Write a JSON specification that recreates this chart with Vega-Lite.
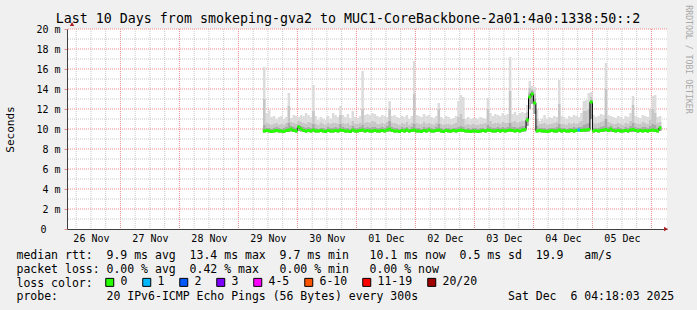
{
"$schema":"https://vega.github.io/schema/vega-lite/v6.json",
"width":600,"height":200,
"autosize":{"type":"none"},
"padding":{"left":67,"top":29,"right":30,"bottom":81},
"background":"#f0f0f0",
"title":{"text":"Last 10 Days from smokeping-gva2 to MUC1-CoreBackbone-2a01:4a0:1338:50::2","font":"DejaVu Sans Mono","fontSize":13.3,"fontWeight":"normal","color":"black","anchor":"middle","frame":"group","dx":-19,"dy":23,"offset":2},
"config":{"view":{"fill":"white","stroke":null}},
"datasets":{
"v6h":[{"g":"2025-11-26T06:00:00Z"},{"g":"2025-11-26T12:00:00Z"},{"g":"2025-11-26T18:00:00Z"},{"g":"2025-11-27T06:00:00Z"},{"g":"2025-11-27T12:00:00Z"},{"g":"2025-11-27T18:00:00Z"},{"g":"2025-11-28T06:00:00Z"},{"g":"2025-11-28T12:00:00Z"},{"g":"2025-11-28T18:00:00Z"},{"g":"2025-11-29T06:00:00Z"},{"g":"2025-11-29T12:00:00Z"},{"g":"2025-11-29T18:00:00Z"},{"g":"2025-11-30T06:00:00Z"},{"g":"2025-11-30T12:00:00Z"},{"g":"2025-11-30T18:00:00Z"},{"g":"2025-12-01T06:00:00Z"},{"g":"2025-12-01T12:00:00Z"},{"g":"2025-12-01T18:00:00Z"},{"g":"2025-12-02T06:00:00Z"},{"g":"2025-12-02T12:00:00Z"},{"g":"2025-12-02T18:00:00Z"},{"g":"2025-12-03T06:00:00Z"},{"g":"2025-12-03T12:00:00Z"},{"g":"2025-12-03T18:00:00Z"},{"g":"2025-12-04T06:00:00Z"},{"g":"2025-12-04T12:00:00Z"},{"g":"2025-12-04T18:00:00Z"},{"g":"2025-12-05T06:00:00Z"},{"g":"2025-12-05T12:00:00Z"},{"g":"2025-12-05T18:00:00Z"}],
"vday":[{"g":"2025-11-27T00:00:00Z"},{"g":"2025-11-28T00:00:00Z"},{"g":"2025-11-29T00:00:00Z"},{"g":"2025-11-30T00:00:00Z"},{"g":"2025-12-01T00:00:00Z"},{"g":"2025-12-02T00:00:00Z"},{"g":"2025-12-03T00:00:00Z"},{"g":"2025-12-04T00:00:00Z"},{"g":"2025-12-05T00:00:00Z"},{"g":"2025-12-06T00:00:00Z"}],
"yodd":[{"v":1},{"v":3},{"v":5},{"v":7},{"v":9},{"v":11},{"v":13},{"v":15},{"v":17},{"v":19}],
"yeven":[{"v":2},{"v":4},{"v":6},{"v":8},{"v":10},{"v":12},{"v":14},{"v":16},{"v":18},{"v":20}],
"smoke":[
{"t":"2025-11-29T10:00:00Z","m":9.8,"lo":9.65,"c":10.4,"b":13.0,"a":16.2,"l":"0"},
{"t":"2025-11-29T11:00:00Z","m":9.85,"lo":9.7,"c":10.1,"b":10.6,"a":11.6,"l":"0"},
{"t":"2025-11-29T12:00:00Z","m":9.8,"lo":9.65,"c":10.1,"b":10.5,"a":11.9,"l":"0"},
{"t":"2025-11-29T13:00:00Z","m":9.75,"lo":9.6,"c":10.0,"b":10.4,"a":11.2,"l":"0"},
{"t":"2025-11-29T14:00:00Z","m":9.8,"lo":9.65,"c":10.1,"b":10.5,"a":11.3,"l":"0"},
{"t":"2025-11-29T15:00:00Z","m":9.85,"lo":9.7,"c":10.2,"b":10.6,"a":11.0,"l":"0"},
{"t":"2025-11-29T16:00:00Z","m":9.8,"lo":9.65,"c":10.1,"b":10.4,"a":11.2,"l":"0"},
{"t":"2025-11-29T17:00:00Z","m":9.8,"lo":9.65,"c":10.0,"b":10.5,"a":11.3,"l":"0"},
{"t":"2025-11-29T18:00:00Z","m":9.75,"lo":9.6,"c":10.1,"b":10.4,"a":11.0,"l":"0"},
{"t":"2025-11-29T19:00:00Z","m":9.85,"lo":9.7,"c":10.2,"b":10.6,"a":11.2,"l":"0"},
{"t":"2025-11-29T20:00:00Z","m":9.9,"lo":9.7,"c":10.6,"b":12.3,"a":13.6,"l":"0"},
{"t":"2025-11-29T21:00:00Z","m":10.0,"lo":9.75,"c":10.3,"b":10.7,"a":11.1,"l":"0"},
{"t":"2025-11-29T22:00:00Z","m":9.85,"lo":9.7,"c":10.2,"b":10.6,"a":11.4,"l":"0"},
{"t":"2025-11-29T23:00:00Z","m":9.8,"lo":9.65,"c":10.1,"b":10.5,"a":11.3,"l":"0"},
{"t":"2025-11-30T00:00:00Z","m":10.2,"lo":9.8,"c":10.4,"b":10.8,"a":11.2,"l":"0"},
{"t":"2025-11-30T01:00:00Z","m":10.0,"lo":9.75,"c":10.3,"b":10.7,"a":11.4,"l":"0"},
{"t":"2025-11-30T02:00:00Z","m":9.85,"lo":9.7,"c":10.2,"b":10.6,"a":11.3,"l":"0"},
{"t":"2025-11-30T03:00:00Z","m":9.8,"lo":9.65,"c":10.1,"b":10.5,"a":11.6,"l":"0"},
{"t":"2025-11-30T04:00:00Z","m":9.85,"lo":9.7,"c":10.2,"b":10.7,"a":11.4,"l":"0"},
{"t":"2025-11-30T05:00:00Z","m":9.8,"lo":9.65,"c":10.1,"b":10.6,"a":11.2,"l":"0"},
{"t":"2025-11-30T06:00:00Z","m":9.9,"lo":9.7,"c":10.5,"b":11.8,"a":14.4,"l":"0"},
{"t":"2025-11-30T07:00:00Z","m":9.8,"lo":9.65,"c":10.1,"b":10.5,"a":11.3,"l":"0"},
{"t":"2025-11-30T08:00:00Z","m":9.8,"lo":9.65,"c":10.0,"b":10.4,"a":10.9,"l":"0"},
{"t":"2025-11-30T09:00:00Z","m":9.85,"lo":9.7,"c":10.1,"b":10.6,"a":11.2,"l":"0"},
{"t":"2025-11-30T10:00:00Z","m":9.8,"lo":9.65,"c":10.1,"b":10.5,"a":11.0,"l":"0"},
{"t":"2025-11-30T11:00:00Z","m":9.75,"lo":9.6,"c":10.0,"b":10.4,"a":10.9,"l":"0"},
{"t":"2025-11-30T12:00:00Z","m":9.85,"lo":9.7,"c":10.2,"b":10.6,"a":11.3,"l":"0"},
{"t":"2025-11-30T13:00:00Z","m":9.8,"lo":9.65,"c":10.1,"b":10.5,"a":11.0,"l":"0"},
{"t":"2025-11-30T14:00:00Z","m":9.8,"lo":9.65,"c":10.1,"b":10.6,"a":11.6,"l":"0"},
{"t":"2025-11-30T15:00:00Z","m":9.85,"lo":9.7,"c":10.2,"b":10.6,"a":11.4,"l":"0"},
{"t":"2025-11-30T16:00:00Z","m":9.8,"lo":9.65,"c":10.1,"b":10.5,"a":11.2,"l":"0"},
{"t":"2025-11-30T17:00:00Z","m":9.9,"lo":9.7,"c":10.5,"b":11.4,"a":12.3,"l":"0"},
{"t":"2025-11-30T18:00:00Z","m":9.85,"lo":9.7,"c":10.2,"b":10.6,"a":11.4,"l":"0"},
{"t":"2025-11-30T19:00:00Z","m":9.8,"lo":9.65,"c":10.1,"b":10.5,"a":11.2,"l":"0"},
{"t":"2025-11-30T20:00:00Z","m":9.8,"lo":9.65,"c":10.1,"b":10.6,"a":11.5,"l":"0"},
{"t":"2025-11-30T21:00:00Z","m":9.75,"lo":9.6,"c":10.0,"b":10.4,"a":11.1,"l":"0"},
{"t":"2025-11-30T22:00:00Z","m":9.9,"lo":9.7,"c":10.3,"b":10.8,"a":11.8,"l":"0"},
{"t":"2025-11-30T23:00:00Z","m":9.8,"lo":9.65,"c":10.1,"b":10.5,"a":11.2,"l":"0"},
{"t":"2025-12-01T00:00:00Z","m":9.8,"lo":9.65,"c":10.1,"b":10.5,"a":11.1,"l":"0"},
{"t":"2025-12-01T01:00:00Z","m":9.85,"lo":9.7,"c":10.2,"b":10.6,"a":11.3,"l":"0"},
{"t":"2025-12-01T02:00:00Z","m":9.9,"lo":9.7,"c":10.4,"b":12.0,"a":15.8,"l":"0"},
{"t":"2025-12-01T03:00:00Z","m":9.8,"lo":9.65,"c":10.1,"b":10.6,"a":11.4,"l":"0"},
{"t":"2025-12-01T04:00:00Z","m":9.85,"lo":9.7,"c":10.2,"b":10.7,"a":11.5,"l":"0"},
{"t":"2025-12-01T05:00:00Z","m":9.8,"lo":9.65,"c":10.1,"b":10.6,"a":11.4,"l":"0"},
{"t":"2025-12-01T06:00:00Z","m":9.8,"lo":9.65,"c":10.2,"b":10.8,"a":11.6,"l":"0"},
{"t":"2025-12-01T07:00:00Z","m":9.85,"lo":9.7,"c":10.2,"b":10.7,"a":11.5,"l":"0"},
{"t":"2025-12-01T08:00:00Z","m":9.8,"lo":9.65,"c":10.1,"b":10.5,"a":11.3,"l":"0"},
{"t":"2025-12-01T09:00:00Z","m":9.8,"lo":9.65,"c":10.1,"b":10.5,"a":11.2,"l":"0"},
{"t":"2025-12-01T10:00:00Z","m":9.85,"lo":9.7,"c":10.2,"b":10.6,"a":11.4,"l":"0"},
{"t":"2025-12-01T11:00:00Z","m":9.8,"lo":9.65,"c":10.1,"b":10.5,"a":11.3,"l":"0"},
{"t":"2025-12-01T12:00:00Z","m":9.9,"lo":9.7,"c":10.3,"b":10.7,"a":11.2,"l":"0"},
{"t":"2025-12-01T13:00:00Z","m":10.0,"lo":9.75,"c":10.8,"b":12.0,"a":12.8,"l":"0"},
{"t":"2025-12-01T14:00:00Z","m":9.85,"lo":9.7,"c":10.2,"b":10.6,"a":11.3,"l":"0"},
{"t":"2025-12-01T15:00:00Z","m":9.8,"lo":9.65,"c":10.1,"b":10.6,"a":11.4,"l":"0"},
{"t":"2025-12-01T16:00:00Z","m":9.8,"lo":9.65,"c":10.1,"b":10.5,"a":11.2,"l":"0"},
{"t":"2025-12-01T17:00:00Z","m":9.75,"lo":9.6,"c":10.0,"b":10.4,"a":11.1,"l":"0"},
{"t":"2025-12-01T18:00:00Z","m":9.85,"lo":9.7,"c":10.2,"b":10.6,"a":11.3,"l":"0"},
{"t":"2025-12-01T19:00:00Z","m":9.8,"lo":9.65,"c":10.1,"b":10.5,"a":11.2,"l":"0"},
{"t":"2025-12-01T20:00:00Z","m":9.9,"lo":9.7,"c":10.2,"b":10.7,"a":11.4,"l":"0"},
{"t":"2025-12-01T21:00:00Z","m":9.8,"lo":9.65,"c":10.0,"b":10.4,"a":11.0,"l":"0"},
{"t":"2025-12-01T22:00:00Z","m":9.85,"lo":9.7,"c":10.2,"b":10.6,"a":11.3,"l":"0"},
{"t":"2025-12-01T23:00:00Z","m":9.9,"lo":9.7,"c":10.5,"b":13.5,"a":16.8,"l":"0"},
{"t":"2025-12-02T00:00:00Z","m":9.8,"lo":9.65,"c":10.1,"b":10.6,"a":11.4,"l":"0"},
{"t":"2025-12-02T01:00:00Z","m":9.8,"lo":9.65,"c":10.1,"b":10.5,"a":11.3,"l":"0"},
{"t":"2025-12-02T02:00:00Z","m":9.75,"lo":9.6,"c":10.0,"b":10.5,"a":11.2,"l":"0"},
{"t":"2025-12-02T03:00:00Z","m":9.85,"lo":9.7,"c":10.2,"b":10.7,"a":11.5,"l":"0"},
{"t":"2025-12-02T04:00:00Z","m":9.8,"lo":9.65,"c":10.1,"b":10.5,"a":11.3,"l":"0"},
{"t":"2025-12-02T05:00:00Z","m":9.9,"lo":9.7,"c":10.2,"b":10.6,"a":11.4,"l":"0"},
{"t":"2025-12-02T06:00:00Z","m":9.8,"lo":9.65,"c":10.1,"b":10.5,"a":11.2,"l":"0"},
{"t":"2025-12-02T07:00:00Z","m":9.8,"lo":9.65,"c":10.0,"b":10.4,"a":11.1,"l":"0"},
{"t":"2025-12-02T08:00:00Z","m":9.85,"lo":9.7,"c":10.2,"b":10.6,"a":11.3,"l":"0"},
{"t":"2025-12-02T09:00:00Z","m":9.9,"lo":9.7,"c":10.5,"b":12.0,"a":12.6,"l":"0"},
{"t":"2025-12-02T10:00:00Z","m":9.8,"lo":9.65,"c":10.1,"b":10.5,"a":11.2,"l":"0"},
{"t":"2025-12-02T11:00:00Z","m":9.75,"lo":9.6,"c":10.0,"b":10.4,"a":11.0,"l":"0"},
{"t":"2025-12-02T12:00:00Z","m":9.85,"lo":9.7,"c":10.1,"b":10.5,"a":11.3,"l":"0"},
{"t":"2025-12-02T13:00:00Z","m":9.8,"lo":9.65,"c":10.1,"b":10.5,"a":11.2,"l":"0"},
{"t":"2025-12-02T14:00:00Z","m":9.8,"lo":9.65,"c":10.0,"b":10.4,"a":11.0,"l":"0"},
{"t":"2025-12-02T15:00:00Z","m":9.85,"lo":9.7,"c":10.1,"b":10.5,"a":11.1,"l":"0"},
{"t":"2025-12-02T16:00:00Z","m":9.8,"lo":9.65,"c":10.1,"b":10.6,"a":11.3,"l":"0"},
{"t":"2025-12-02T17:00:00Z","m":9.85,"lo":9.7,"c":10.2,"b":11.2,"a":12.8,"l":"0"},
{"t":"2025-12-02T18:00:00Z","m":9.9,"lo":9.7,"c":10.3,"b":11.5,"a":13.4,"l":"0"},
{"t":"2025-12-02T19:00:00Z","m":9.85,"lo":9.7,"c":10.2,"b":11.0,"a":13.2,"l":"0"},
{"t":"2025-12-02T20:00:00Z","m":9.8,"lo":9.65,"c":10.0,"b":10.4,"a":11.0,"l":"0"},
{"t":"2025-12-02T21:00:00Z","m":9.8,"lo":9.65,"c":10.1,"b":10.5,"a":11.2,"l":"0"},
{"t":"2025-12-02T22:00:00Z","m":9.75,"lo":9.6,"c":10.0,"b":10.4,"a":11.0,"l":"0"},
{"t":"2025-12-02T23:00:00Z","m":9.8,"lo":9.65,"c":10.1,"b":10.5,"a":11.1,"l":"0"},
{"t":"2025-12-03T00:00:00Z","m":9.8,"lo":9.65,"c":10.1,"b":10.4,"a":11.1,"l":"0"},
{"t":"2025-12-03T01:00:00Z","m":9.75,"lo":9.6,"c":10.0,"b":10.4,"a":11.0,"l":"0"},
{"t":"2025-12-03T02:00:00Z","m":9.8,"lo":9.65,"c":10.1,"b":10.5,"a":11.2,"l":"0"},
{"t":"2025-12-03T03:00:00Z","m":9.85,"lo":9.7,"c":10.1,"b":10.5,"a":11.1,"l":"0"},
{"t":"2025-12-03T04:00:00Z","m":9.8,"lo":9.65,"c":10.0,"b":10.6,"a":11.0,"l":"0"},
{"t":"2025-12-03T05:00:00Z","m":9.9,"lo":9.7,"c":10.4,"b":12.0,"a":13.1,"l":"0"},
{"t":"2025-12-03T06:00:00Z","m":9.85,"lo":9.7,"c":10.2,"b":10.8,"a":11.6,"l":"0"},
{"t":"2025-12-03T07:00:00Z","m":9.8,"lo":9.65,"c":10.1,"b":10.5,"a":11.3,"l":"0"},
{"t":"2025-12-03T08:00:00Z","m":9.8,"lo":9.65,"c":10.1,"b":10.6,"a":11.5,"l":"0"},
{"t":"2025-12-03T09:00:00Z","m":9.85,"lo":9.7,"c":10.2,"b":10.6,"a":11.4,"l":"0"},
{"t":"2025-12-03T10:00:00Z","m":9.8,"lo":9.65,"c":10.1,"b":10.5,"a":11.3,"l":"0"},
{"t":"2025-12-03T11:00:00Z","m":9.85,"lo":9.7,"c":10.2,"b":10.7,"a":11.6,"l":"0"},
{"t":"2025-12-03T12:00:00Z","m":9.8,"lo":9.65,"c":10.1,"b":10.6,"a":11.4,"l":"0"},
{"t":"2025-12-03T13:00:00Z","m":9.85,"lo":9.7,"c":10.2,"b":10.6,"a":11.5,"l":"0"},
{"t":"2025-12-03T14:00:00Z","m":9.9,"lo":9.7,"c":10.6,"b":13.8,"a":17.2,"l":"0"},
{"t":"2025-12-03T15:00:00Z","m":9.85,"lo":9.7,"c":10.2,"b":10.7,"a":11.5,"l":"0"},
{"t":"2025-12-03T16:00:00Z","m":9.8,"lo":9.65,"c":10.2,"b":10.8,"a":11.7,"l":"0"},
{"t":"2025-12-03T17:00:00Z","m":9.85,"lo":9.7,"c":10.1,"b":10.6,"a":11.4,"l":"0"},
{"t":"2025-12-03T18:00:00Z","m":9.8,"lo":9.65,"c":10.2,"b":10.7,"a":11.6,"l":"0"},
{"t":"2025-12-03T19:00:00Z","m":9.9,"lo":9.7,"c":10.3,"b":10.8,"a":11.7,"l":"0"},
{"t":"2025-12-03T20:00:00Z","m":9.95,"lo":9.75,"c":10.3,"b":10.8,"a":11.6,"l":"0"},
{"t":"2025-12-03T21:00:00Z","m":10.9,"lo":10.3,"c":11.2,"b":11.7,"a":12.4,"l":"0"},
{"t":"2025-12-03T22:00:00Z","m":13.2,"lo":12.0,"c":13.6,"b":14.1,"a":14.8,"l":"0"},
{"t":"2025-12-03T23:00:00Z","m":13.5,"lo":12.5,"c":13.8,"b":14.0,"a":14.3,"l":"0"},
{"t":"2025-12-04T00:00:00Z","m":12.6,"lo":11.5,"c":13.0,"b":13.5,"a":14.2,"l":"0"},
{"t":"2025-12-04T01:00:00Z","m":9.8,"lo":9.65,"c":10.3,"b":11.0,"a":12.0,"l":"0"},
{"t":"2025-12-04T02:00:00Z","m":9.85,"lo":9.7,"c":10.1,"b":10.5,"a":10.8,"l":"0"},
{"t":"2025-12-04T03:00:00Z","m":9.8,"lo":9.65,"c":10.1,"b":10.5,"a":11.0,"l":"0"},
{"t":"2025-12-04T04:00:00Z","m":9.8,"lo":9.65,"c":10.1,"b":10.6,"a":11.4,"l":"0"},
{"t":"2025-12-04T05:00:00Z","m":9.75,"lo":9.6,"c":10.0,"b":10.4,"a":11.0,"l":"0"},
{"t":"2025-12-04T06:00:00Z","m":9.8,"lo":9.65,"c":10.1,"b":10.5,"a":11.2,"l":"0"},
{"t":"2025-12-04T07:00:00Z","m":9.85,"lo":9.7,"c":10.1,"b":10.5,"a":11.1,"l":"0"},
{"t":"2025-12-04T08:00:00Z","m":9.8,"lo":9.65,"c":10.1,"b":10.6,"a":11.3,"l":"0"},
{"t":"2025-12-04T09:00:00Z","m":9.8,"lo":9.65,"c":10.2,"b":10.7,"a":11.2,"l":"0"},
{"t":"2025-12-04T10:00:00Z","m":9.9,"lo":9.7,"c":10.5,"b":12.5,"a":14.9,"l":"0"},
{"t":"2025-12-04T11:00:00Z","m":9.8,"lo":9.65,"c":10.1,"b":10.5,"a":11.3,"l":"0"},
{"t":"2025-12-04T12:00:00Z","m":9.85,"lo":9.7,"c":10.1,"b":10.5,"a":11.2,"l":"0"},
{"t":"2025-12-04T13:00:00Z","m":9.8,"lo":9.65,"c":10.0,"b":10.4,"a":11.0,"l":"0"},
{"t":"2025-12-04T14:00:00Z","m":9.8,"lo":9.65,"c":10.1,"b":10.6,"a":11.3,"l":"0"},
{"t":"2025-12-04T15:00:00Z","m":9.85,"lo":9.7,"c":10.1,"b":10.5,"a":11.2,"l":"0"},
{"t":"2025-12-04T16:00:00Z","m":9.8,"lo":9.65,"c":10.2,"b":10.6,"a":11.4,"l":"0"},
{"t":"2025-12-04T17:00:00Z","m":9.85,"lo":9.7,"c":10.1,"b":10.5,"a":11.3,"l":"0"},
{"t":"2025-12-04T18:00:00Z","m":9.9,"lo":9.7,"c":10.2,"b":10.6,"a":11.2,"l":"1"},
{"t":"2025-12-04T19:00:00Z","m":9.85,"lo":9.7,"c":10.2,"b":10.8,"a":11.6,"l":"0"},
{"t":"2025-12-04T20:00:00Z","m":9.9,"lo":9.7,"c":10.4,"b":11.8,"a":12.8,"l":"0"},
{"t":"2025-12-04T21:00:00Z","m":9.9,"lo":9.7,"c":10.5,"b":11.8,"a":12.9,"l":"0"},
{"t":"2025-12-04T22:00:00Z","m":9.95,"lo":9.75,"c":10.6,"b":12.0,"a":13.6,"l":"0"},
{"t":"2025-12-04T23:00:00Z","m":12.7,"lo":11.0,"c":12.9,"b":13.2,"a":13.7,"l":"0"},
{"t":"2025-12-05T00:00:00Z","m":9.8,"lo":9.65,"c":10.1,"b":10.6,"a":11.4,"l":"0"},
{"t":"2025-12-05T01:00:00Z","m":9.85,"lo":9.7,"c":10.1,"b":10.5,"a":11.2,"l":"0"},
{"t":"2025-12-05T02:00:00Z","m":9.8,"lo":9.65,"c":10.1,"b":10.6,"a":11.3,"l":"0"},
{"t":"2025-12-05T03:00:00Z","m":9.85,"lo":9.7,"c":10.2,"b":10.7,"a":11.5,"l":"0"},
{"t":"2025-12-05T04:00:00Z","m":9.9,"lo":9.7,"c":10.3,"b":10.8,"a":11.4,"l":"0"},
{"t":"2025-12-05T05:00:00Z","m":9.95,"lo":9.75,"c":11.0,"b":14.0,"a":16.6,"l":"0"},
{"t":"2025-12-05T06:00:00Z","m":9.85,"lo":9.7,"c":10.2,"b":10.7,"a":11.4,"l":"0"},
{"t":"2025-12-05T07:00:00Z","m":10.0,"lo":9.7,"c":10.3,"b":10.6,"a":11.3,"l":"0"},
{"t":"2025-12-05T08:00:00Z","m":9.85,"lo":9.7,"c":10.1,"b":10.5,"a":11.2,"l":"0"},
{"t":"2025-12-05T09:00:00Z","m":9.8,"lo":9.65,"c":10.1,"b":10.5,"a":11.1,"l":"0"},
{"t":"2025-12-05T10:00:00Z","m":9.85,"lo":9.7,"c":10.2,"b":10.6,"a":11.3,"l":"0"},
{"t":"2025-12-05T11:00:00Z","m":9.8,"lo":9.65,"c":10.1,"b":10.5,"a":11.2,"l":"0"},
{"t":"2025-12-05T12:00:00Z","m":9.8,"lo":9.65,"c":10.0,"b":10.4,"a":11.0,"l":"0"},
{"t":"2025-12-05T13:00:00Z","m":9.85,"lo":9.7,"c":10.2,"b":10.6,"a":11.3,"l":"0"},
{"t":"2025-12-05T14:00:00Z","m":9.8,"lo":9.65,"c":10.1,"b":10.5,"a":11.2,"l":"0"},
{"t":"2025-12-05T15:00:00Z","m":9.9,"lo":9.7,"c":10.3,"b":10.8,"a":11.6,"l":"0"},
{"t":"2025-12-05T16:00:00Z","m":9.95,"lo":9.7,"c":10.6,"b":12.4,"a":13.3,"l":"0"},
{"t":"2025-12-05T17:00:00Z","m":9.85,"lo":9.7,"c":10.2,"b":10.6,"a":11.3,"l":"0"},
{"t":"2025-12-05T18:00:00Z","m":9.8,"lo":9.65,"c":10.1,"b":10.5,"a":11.2,"l":"0"},
{"t":"2025-12-05T19:00:00Z","m":9.85,"lo":9.7,"c":10.1,"b":10.5,"a":11.1,"l":"0"},
{"t":"2025-12-05T20:00:00Z","m":9.8,"lo":9.65,"c":10.2,"b":10.7,"a":11.4,"l":"0"},
{"t":"2025-12-05T21:00:00Z","m":9.85,"lo":9.7,"c":10.2,"b":10.6,"a":11.3,"l":"0"},
{"t":"2025-12-05T22:00:00Z","m":9.8,"lo":9.65,"c":10.1,"b":10.5,"a":11.2,"l":"0"},
{"t":"2025-12-05T23:00:00Z","m":9.85,"lo":9.7,"c":10.3,"b":10.9,"a":12.0,"l":"0"},
{"t":"2025-12-06T00:00:00Z","m":9.9,"lo":9.7,"c":10.5,"b":12.0,"a":13.3,"l":"0"},
{"t":"2025-12-06T01:00:00Z","m":9.85,"lo":9.7,"c":10.4,"b":11.6,"a":13.4,"l":"0"},
{"t":"2025-12-06T02:00:00Z","m":9.8,"lo":9.65,"c":10.1,"b":10.6,"a":11.2,"l":"0"},
{"t":"2025-12-06T03:00:00Z","m":10.1,"lo":9.8,"c":10.3,"b":10.7,"a":11.3,"l":"0"}
]},
"layer":[
{"data":{"name":"v6h"},"mark":{"type":"rule","color":"#c8c8c8","strokeDash":[1,1],"strokeWidth":1},
 "encoding":{"x":{"field":"g","type":"temporal","scale":{"type":"utc","domain":[1764130683000,1764994683000]},
  "axis":{"values":[1764158400000,1764244800000,1764331200000,1764417600000,1764504000000,1764590400000,1764676800000,1764763200000,1764849600000,1764936000000],
   "labelExpr":"['26 Nov','27 Nov','28 Nov','29 Nov','30 Nov','01 Dec','02 Dec','03 Dec','04 Dec','05 Dec'][round((datum.value - 1764158400000) / 86400000)]",
   "ticks":false,"grid":false,"domainColor":"#404040",
   "labelFont":"DejaVu Sans Mono","labelFontSize":10,"labelColor":"black","labelPadding":4,"labelFlush":false,"labelOverlap":false,"labelBound":false,"labelAngle":0,
   "title":["median rtt:\u00a0\u00a09.9 ms avg\u00a0\u00a013.4 ms max\u00a0\u00a09.7 ms min\u00a0\u00a0\u00a010.1 ms now\u00a0\u00a00.5 ms sd\u00a0\u00a019.9\u00a0\u00a0\u00a0am/s","packet loss: 0.00 % avg\u00a0\u00a00.42 % max\u00a0\u00a0\u00a00.00 % min\u00a0\u00a0\u00a00.00 % now","loss color:","probe:\u00a0\u00a0\u00a0\u00a0\u00a0\u00a0\u00a020 IPv6-ICMP Echo Pings (56 Bytes) every 300s\u00a0\u00a0\u00a0\u00a0\u00a0\u00a0\u00a0\u00a0\u00a0\u00a0\u00a0\u00a0\u00a0Sat Dec\u00a0\u00a06 04:18:03 2025"],
   "titleFont":"DejaVu Sans Mono","titleFontSize":11.5,"titleFontWeight":"normal","titleColor":"black","titleAlign":"left","titleAnchor":"start","titleBaseline":"alphabetic","titleX":-51,"titleY":29.5,"titleLineHeight":13.8}}}},
{"data":{"name":"vday"},"mark":{"type":"rule","color":"#ee8c8c","strokeDash":[1,1],"strokeWidth":1},
 "encoding":{"x":{"field":"g","type":"temporal","scale":{"type":"utc","domain":[1764130683000,1764994683000]}}}},
{"data":{"name":"yodd"},"mark":{"type":"rule","color":"#c8c8c8","strokeDash":[1,1],"strokeWidth":1},
 "encoding":{"y":{"field":"v","type":"quantitative","scale":{"domain":[0,20],"nice":false},
  "axis":{"orient":"left","values":[0,2,4,6,8,10,12,14,16,18,20],"grid":false,"tickSize":3,"tickColor":"#ee8c8c","domainColor":"#404040",
   "labelExpr":"datum.value == 0 ? '0\u2800\u2800' : datum.value + ' m'",
   "labelFont":"DejaVu Sans Mono","labelFontSize":10,"labelColor":"black","labelPadding":4,"labelOverlap":false,"labelBound":false,"labelFlush":false,
   "title":"Seconds","titleFont":"DejaVu Sans Mono","titleFontSize":11,"titleFontWeight":"normal","titleColor":"black","titleX":-57,"titleY":100,"titleAlign":"center","titleBaseline":"middle"}}}},
{"data":{"name":"yeven"},"mark":{"type":"rule","color":"#ee8c8c","strokeDash":[1,1],"strokeWidth":1},
 "encoding":{"y":{"field":"v","type":"quantitative","scale":{"domain":[0,20],"nice":false},
  "axis":{"orient":"right","labels":false,"ticks":false,"domain":false,"grid":false,"title":"RRDTOOL / TOBI OETIKER","titleFont":"DejaVu Sans Mono","titleFontSize":8.2,"titleFontWeight":"normal","titleColor":"#a8a8a8","titleAngle":90,"titleX":20,"titleY":30,"titleAlign":"center","titleBaseline":"middle"}}}},
{"data":{"name":"smoke"},"mark":{"type":"bar","color":"#dcdcdc","width":2.5,"xOffset":1.25},
 "encoding":{"x":{"field":"t","type":"temporal","scale":{"type":"utc","domain":[1764130683000,1764994683000]}},
  "y":{"field":"a","type":"quantitative","scale":{"domain":[0,20],"nice":false},"axis":null},"y2":{"field":"lo"}}},
{"data":{"name":"smoke"},"mark":{"type":"bar","color":"#c6c6c6","width":2.5,"xOffset":1.25},
 "encoding":{"x":{"field":"t","type":"temporal"},"y":{"field":"b","type":"quantitative","axis":null},"y2":{"field":"lo"}}},
{"data":{"name":"smoke"},"mark":{"type":"bar","color":"#a8a8a8","width":2.5,"xOffset":1.25},
 "encoding":{"x":{"field":"t","type":"temporal"},"y":{"field":"c","type":"quantitative","axis":null},"y2":{"field":"lo"}}},
{"data":{"name":"smoke"},"mark":{"type":"line","color":"black","strokeWidth":1,"interpolate":"step-after"},
 "encoding":{"x":{"field":"t","type":"temporal"},"y":{"field":"m","type":"quantitative","axis":null}}},
{"data":{"name":"smoke"},"mark":{"type":"tick","orient":"horizontal","thickness":3,"size":3,"xOffset":1.25,"opacity":1},
 "encoding":{"x":{"field":"t","type":"temporal"},"y":{"field":"m","type":"quantitative","axis":null},
  "color":{"field":"l","type":"nominal",
   "scale":{"domain":["0","1","2","3","4-5","6-10","11-19","20/20"],"range":["#26ff00","#00b8ff","#0059ff","#7e00ff","#ff00ff","#ff5500","#ff0000","#a10000"]},
   "legend":{"orient":"none","legendX":37,"legendY":247.5,"direction":"horizontal","title":null,
    "labelFont":"DejaVu Sans Mono","labelFontSize":11.5,"labelColor":"black","labelOffset":5,"columnPadding":12,"symbolType":"square","symbolSize":64,"symbolStrokeColor":"black","symbolStrokeWidth":1,"symbolOpacity":1,"padding":0}}}},
{"data":{"values":[{}]},"mark":{"type":"point","shape":"triangle-right","filled":true,"size":20,"color":"#b02020","opacity":1,"xOffset":4},
 "encoding":{"x":{"datum":1764994683000,"type":"temporal"},"y":{"datum":0,"type":"quantitative","axis":null}}},
{"data":{"values":[{}]},"mark":{"type":"point","shape":"triangle-up","filled":true,"size":20,"color":"#b02020","opacity":1,"yOffset":-5},
 "encoding":{"x":{"datum":1764130683000,"type":"temporal"},"y":{"datum":20,"type":"quantitative","axis":null}}}
],
"resolve":{"axis":{"y":"independent"}}
}
